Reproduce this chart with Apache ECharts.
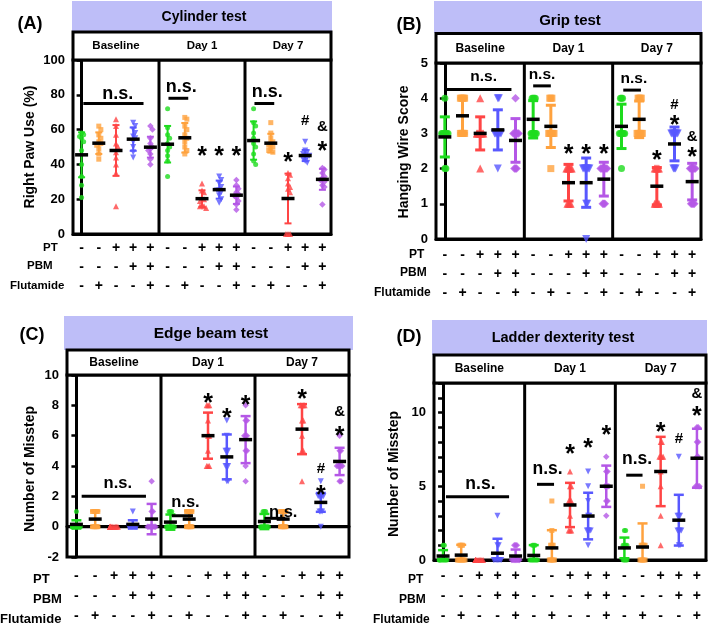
<!DOCTYPE html>
<html><head><meta charset="utf-8">
<script src="https://cdn.jsdelivr.net/npm/echarts@6/dist/echarts.min.js"></script>
<style>html,body{margin:0;padding:0;background:#fff}#c{width:709px;height:626px}</style>
</head><body><div id="c"></div>
<script>
// ---------------- data ----------------
const timepoints = ['Baseline', 'Day 1', 'Day 7'];
const rowNames = ['PT', 'PBM', 'Flutamide'];
const ptSigns = ['-', '-', '+', '+', '+'];
const pbmSigns = ['-', '-', '-', '+', '+'];
const fluSigns = ['-', '+', '-', '-', '+'];

// (A) Cylinder test
const cylPoints = [
  [58, 57, 56, 55, 53, 48, 40, 33, 28, 21],
  [62, 60, 57, 55, 53, 52, 51, 49, 46, 43],
  [66, 62, 57, 52, 50, 47, 44, 40, 35, 16],
  [64, 62, 60, 58, 56, 55, 53, 50, 47, 44],
  [62, 60, 55, 52, 50, 49, 48, 46, 43, 40],
  [72, 61, 57, 55, 52, 50, 48, 45, 42, 33],
  [67, 66, 62, 60, 57, 55, 53, 50, 48, 46],
  [29, 25, 24, 21, 20, 19, 17, 16, 16, 15],
  [33, 31, 29, 27, 25, 25, 24, 22, 20, 18],
  [31, 28, 26, 24, 23, 22, 21, 19, 17, 14],
  [72, 64, 62, 58, 55, 52, 50, 46, 42, 40],
  [64, 58, 55, 53, 52, 51, 50, 49, 48, 47],
  [35, 34, 32, 29, 27, 26, 24, 0, 0, 0],
  [53, 48, 47, 46, 45, 45, 44, 43, 42, 41],
  [38, 37, 35, 33, 32, 31, 30, 28, 27, 17]
];
const cylMean = [45.5, 52.2, 48, 54.5, 49.9, 51.6, 55.3, 20.3, 25.5, 22.3, 53.7, 52.2, 20.4, 45.1, 31.4];
const cylSD = [12.9, 6.2, 14.6, 6.7, 6, 10.5, 8.5, 4.8, 5.2, 5, 11, 5.4, 14.3, 3.2, 6];
const cylNS = [[0.1, 3.6, 75, 2.1, 80.5], [5.05, 6.2, 78, 5.8, 84.5], [10.05, 11.2, 75, 10.8, 81.5]];
const cylMarks = [[7, 47.5, '*'], [8, 47.5, '*'], [9, 47.5, '*'], [12, 44.2, '*'], [13, 65, '#'], [14, 61.3, '&'], [14, 50.3, '*']];

// (B) Grip test
const gripPoints = [
  [4, 3, 3, 3, 3, 3, 3, 3, 2, 2],
  [4, 4, 4, 4, 4, 3, 3, 3, 3, 3],
  [4, 3, 3, 3, 3, 3, 3, 3, 3, 2],
  [4, 4, 3, 3, 3, 3, 3, 3, 3, 2],
  [4, 3, 3, 3, 3, 3, 3, 2, 2, 2],
  [4, 4, 4, 4, 3, 3, 3, 3, 3, 3],
  [4, 4, 4, 3, 3, 3, 3, 3, 3, 2],
  [2, 2, 2, 2, 2, 2, 1, 1, 1, 1],
  [2, 2, 2, 2, 2, 2, 2, 1, 1, 0],
  [2, 2, 2, 2, 2, 2, 2, 1, 1, 1],
  [4, 4, 4, 3, 3, 3, 3, 3, 3, 2],
  [4, 4, 4, 4, 3, 3, 3, 3, 3, 3],
  [2, 2, 2, 2, 2, 1, 1, 1, 1, 1],
  [3, 3, 3, 3, 3, 3, 3, 2, 2, 2],
  [2, 2, 2, 2, 2, 2, 1, 1, 1, 1]
];
const gripMean = [2.9, 3.5, 3.0, 3.1, 2.8, 3.4, 3.2, 1.6, 1.6, 1.7, 3.2, 3.4, 1.5, 2.7, 1.63];
const gripSD = [0.57, 0.5, 0.47, 0.57, 0.62, 0.53, 0.6, 0.52, 0.7, 0.48, 0.63, 0.52, 0.53, 0.48, 0.52];
const gripNS = [[0.0, 3.77, 4.25, 2.2, 4.61], [5.0, 6.0, 4.35, 5.5, 4.66], [10.1, 11.1, 4.23, 10.7, 4.56]];
const gripMarks = [[7, 2.55, '*'], [8, 2.55, '*'], [9, 2.55, '*'], [12, 2.39, '*'], [13, 3.8, '#'], [13, 3.38, '*'], [14, 2.89, '&'], [14, 2.48, '*']];

// (C) Edge beam test
const edgePoints = [
  [1, 0, 0, 0, 0, 0, 0, 0, 0, 0],
  [1, 1, 1, 1, 1, 0, 0, 0, 0, 0],
  [0, 0, 0, 0, 0, 0, 0, 0, 0, 0],
  [1, 0, 0, 0, 0, 0, 0, 0, 0, 0],
  [3, 1, 1, 0, 0, 0, 0, 0, 0, 0],
  [1, 1, 1, 0, 0, 0, 0, 0, 0, 0],
  [1, 1, 1, 1, 1, 0, 0, 0, 0, 0],
  [8, 8, 8, 7, 6, 6, 5, 4, 4, 4],
  [7, 6, 5, 5, 5, 4, 4, 4, 3, 3],
  [8, 7, 7, 6, 6, 6, 5, 5, 4, 3],
  [1, 1, 1, 0, 0, 0, 0, 0, 0, 0],
  [1, 1, 1, 1, 1, 0, 0, 0, 0, 0],
  [8, 8, 8, 8, 7, 7, 6, 5, 5, 3],
  [3, 2, 2, 2, 2, 2, 1, 1, 1, 0],
  [6, 5, 5, 4, 4, 4, 4, 4, 3, 3]
];
const edgeMean = [0.15, 0.5, 0, 0.15, 0.5, 0.3, 0.5, 6.0, 4.6, 5.74, 0.34, 0.5, 6.43, 1.6, 4.3];
const edgeSD = [0.27, 0.53, 0, 0.27, 1.0, 0.5, 0.53, 1.52, 1.48, 1.55, 0.5, 0.53, 1.65, 0.62, 0.9];
const edgeNS = [[0.28, 3.7, 2.0, 2.2, 2.86], [5.07, 6.2, 0.72, 5.8, 1.57], [10.0, 11.1, 0.55, 11.0, 0.97]];
const edgeMarks = [[7, 8.5, '*'], [8, 7.47, '*'], [9, 8.33, '*'], [12, 8.77, '*'], [13, 3.8, '#'], [13, 2.43, '*'], [14, 7.55, '&'], [14, 6.28, '*']];

// (D) Ladder dexterity test
const ladderPoints = [
  [1, 1, 0, 0, 0, 0, 0, 0, 0, 0],
  [1, 1, 1, 0, 0, 0, 0, 0, 0, 0],
  [0, 0, 0, 0, 0, 0, 0, 0, 0, 0],
  [3, 1, 1, 0, 0, 0, 0, 0, 0, 0],
  [1, 1, 1, 0, 0, 0, 0, 0, 0, 0],
  [1, 1, 1, 0, 0, 0, 0, 0, 0, 0],
  [4, 2, 1, 1, 1, 0, 0, 0, 0, 0],
  [6, 5, 5, 4, 4, 4, 3, 2, 2, 2],
  [6, 5, 4, 3, 3, 2, 2, 2, 2, 1],
  [7, 6, 6, 5, 5, 5, 5, 4, 4, 3],
  [2, 2, 1, 1, 1, 1, 0, 0, 0, 0],
  [5, 1, 1, 1, 1, 0, 0, 0, 0, 0],
  [8, 8, 7, 7, 7, 7, 6, 5, 3, 1],
  [7, 3, 3, 3, 2, 2, 2, 2, 1, 1],
  [9, 9, 8, 8, 7, 7, 5, 5, 5, 5]
];
const ladderMean = [0.27, 0.33, 0, 0.46, 0.27, 0.31, 0.82, 3.73, 2.98, 5.0, 0.82, 0.88, 6.0, 2.7, 6.9];
const ladderSD = [0.4, 0.7, 0, 0.98, 0.44, 0.7, 1.2, 1.5, 1.58, 1.4, 0.7, 1.6, 2.35, 1.72, 2.0];
const ladderNS = [[0.16, 3.64, 4.29, 2.06, 5.17], [5.18, 6.12, 5.13, 5.76, 6.19], [10.1, 11.0, 5.75, 10.7, 6.83]];
const ladderMarks = [[7, 7.55, '*'], [8, 7.9, '*'], [9, 8.8, '*'], [12, 9.04, '*'], [13, 8.22, '#'], [14, 11.27, '&'], [14, 10.1, '*']];

// ---------------- styling / layout ----------------
const COLORS = ['#1EDC1E', '#FFA23E', '#FF4545', '#5858FF', '#B457E6'];
const SYMBOLS = ['circle', 'rect', 'triangle', 'triangle', 'diamond'];
const SYMROT = [0, 0, 0, 180, 0];
const FONT = '"Liberation Sans", Arial, Helvetica, sans-serif';
const TITLE_FILL = '#BEBEF8';

const panels = [
  { title: 'Cylinder test', label: '(A)', yName: 'Right Paw Use (%)',
    points: cylPoints, mean: cylMean, sd: cylSD, ns: cylNS, marks: cylMarks,
    y: { min: 0, max: 100, interval: 20, labelEvery: 1 }, zeroLine: false,
    lay: { grid: { left: 73, top: 60, width: 258, height: 174 }, titleBox: [72, 1, 260, 31], titleX: 204, titleY: 17, titleSize: 14,
      headerTop: 32, headerSize: 11.5, labelXY: [30, 24], yNameXY: [30, 147], rowX: [43, 27, 10], rowY: [248, 266, 286], rowSize: 11.5,
      signMargin: 4.5, signLH: 19, sym: 5, step: 0.12, thr: 2.5, barW: 2, cap: 3.5, nsSize: 18 } },
  { title: 'Grip test', label: '(B)', yName: 'Hanging Wire Score',
    points: gripPoints, mean: gripMean, sd: gripSD, ns: gripNS, marks: gripMarks,
    y: { min: 0, max: 5, interval: 1, labelEvery: 1 }, zeroLine: false,
    lay: { grid: { left: 436, top: 63, width: 265, height: 176 }, titleBox: [434, 1, 268, 32], titleX: 570, titleY: 21, titleSize: 15,
      headerTop: 33.5, headerSize: 12, labelXY: [409, 25], yNameXY: [404, 152], rowX: [409, 400, 374], rowY: [255, 273, 293], rowSize: 12,
      signMargin: 6.5, signLH: 19, sym: 7, step: 0.06, thr: 0.1, barW: 3, cap: 5, nsSize: 15.5 } },
  { title: 'Edge beam test', label: '(C)', yName: 'Number of Misstep',
    points: edgePoints, mean: edgeMean, sd: edgeSD, ns: edgeNS, marks: edgeMarks,
    y: { min: -2, max: 10, interval: 2, labelEvery: 1 }, zeroLine: true,
    lay: { grid: { left: 67, top: 375, width: 282, height: 185 }, titleBox: [64, 316, 289, 34], titleX: 211, titleY: 334, titleSize: 15.5,
      headerTop: 350, headerSize: 12, labelXY: [32, 335], yNameXY: [30, 469], rowX: [33, 33, 0], rowY: [579, 599, 619], rowSize: 13,
      signMargin: 9, signLH: 20, sym: 5, step: 0.07, thr: 0.2, barW: 2.5, cap: 5, nsSize: 16.5 } },
  { title: 'Ladder dexterity test', label: '(D)', yName: 'Number of Misstep',
    points: ladderPoints, mean: ladderMean, sd: ladderSD, ns: ladderNS, marks: ladderMarks,
    y: { min: 0, max: 12, interval: 1, labelEvery: 5 }, zeroLine: false,
    lay: { grid: { left: 434, top: 383, width: 272, height: 181 }, titleBox: [432, 320, 275, 35], titleX: 563, titleY: 338, titleSize: 14.5,
      headerTop: 355, headerSize: 12, labelXY: [409, 337], yNameXY: [394, 474], rowX: [408, 399, 373], rowY: [580, 600, 620], rowSize: 12,
      signMargin: 6, signLH: 20, sym: 5, step: 0.07, thr: 0.2, barW: 2.5, cap: 5, nsSize: 17.5 } }
];

// deterministic beeswarm offsets (category units)
function swarm(values, thr, step, maxK) {
  const order = values.map((v, i) => i).sort((a, b) => values[b] - values[a]);
  const placed = []; const off = new Array(values.length).fill(0);
  for (const i of order) {
    const v = values[i];
    const near = placed.filter(p => Math.abs(p.v - v) < thr);
    let chosen = 0;
    for (let k = 0; k <= maxK * 2; k++) {
      const cand = k === 0 ? 0 : (k % 2 ? Math.ceil(k / 2) : -k / 2);
      chosen = cand;
      if (!near.some(p => p.k === cand)) break;
    }
    placed.push({ v, k: chosen }); off[i] = chosen * step;
  }
  return off;
}

const grids = [], xAxes = [], yAxes = [], series = [], graphics = [];
const cats = Array.from({ length: 15 }, (_, i) => 'g' + i);

panels.forEach((p, gi) => {
  const L = p.lay, G = L.grid;
  grids.push({ left: G.left, top: G.top, width: G.width, height: G.height, show: true, borderColor: '#000', borderWidth: 3, backgroundColor: 'transparent' });
  xAxes.push({ gridIndex: gi, type: 'category', data: cats, position: 'bottom',
    axisLine: { show: true, lineStyle: { color: '#000', width: 3 } }, axisTick: { show: false },
    axisLabel: { interval: 0, margin: L.signMargin, lineHeight: L.signLH, fontSize: 14, fontWeight: 'bold', color: '#000', fontFamily: FONT,
      formatter: (v, i) => [ptSigns[i % 5], pbmSigns[i % 5], fluSigns[i % 5]].join('\n') } });
  xAxes.push({ gridIndex: gi, type: 'value', min: -0.5, max: 14.5, show: false });
  const xv = gi * 2 + 1;
  yAxes.push({ gridIndex: gi, type: 'value', min: p.y.min, max: p.y.max, interval: p.y.interval,
    splitLine: { show: false },
    axisLine: { show: true, lineStyle: { color: '#000', width: 3 } },
    axisTick: { show: true, length: 5, lineStyle: { color: '#000', width: 2.5 } },
    axisLabel: { margin: 8, fontSize: 13, fontWeight: 'bold', color: '#000', fontFamily: FONT,
      formatter: v => (Math.round(v) % (p.y.interval * p.y.labelEvery) === 0 ? String(v) : '') } });

  const yMin = p.y.min, yMax = p.y.max;

  // section separators + zero line
  const seps = [[4.5, yMin], [9.5, yMin]];
  series.push({ type: 'custom', xAxisIndex: xv, yAxisIndex: gi, silent: true, z: 1, data: seps,
    renderItem: (params, api) => {
      const a = api.coord([api.value(0), yMin]), b = api.coord([api.value(0), yMax]);
      return { type: 'line', shape: { x1: a[0], y1: a[1], x2: b[0], y2: b[1] }, style: { stroke: '#000', lineWidth: 3 } };
    } });
  if (p.zeroLine) {
    series.push({ type: 'custom', xAxisIndex: xv, yAxisIndex: gi, silent: true, z: 1, data: [[-0.5, 0]],
      renderItem: (params, api) => {
        const a = api.coord([-0.5, 0]), b = api.coord([14.5, 0]);
        return { type: 'line', shape: { x1: a[0], y1: a[1], x2: b[0], y2: b[1] }, style: { stroke: '#000', lineWidth: 3 } };
      } });
  }

  // error bars (SD)
  series.push({ type: 'custom', xAxisIndex: xv, yAxisIndex: gi, silent: true, z: 2,
    data: p.mean.map((m, i) => [i, m, p.sd[i], i % 5]),
    renderItem: (params, api) => {
      const x = api.value(0), m = api.value(1), s = api.value(2), c = COLORS[api.value(3)];
      if (!(s > 0)) return { type: 'group', children: [] };
      const lo = Math.max(m - s, yMin);
      const t = api.coord([x, m + s]), b = api.coord([x, lo]);
      const st = { stroke: c, lineWidth: L.barW };
      const ch = [
        { type: 'line', shape: { x1: t[0], y1: t[1], x2: b[0], y2: b[1] }, style: st },
        { type: 'line', shape: { x1: t[0] - L.cap, y1: t[1], x2: t[0] + L.cap, y2: t[1] }, style: st }
      ];
      if (m - s >= yMin) ch.push({ type: 'line', shape: { x1: b[0] - L.cap, y1: b[1], x2: b[0] + L.cap, y2: b[1] }, style: st });
      return { type: 'group', children: ch };
    } });

  // individual points
  for (let c = 0; c < 5; c++) {
    const data = [];
    for (let t = 0; t < 3; t++) {
      const idx = t * 5 + c;
      const vals = p.points[idx];
      const off = swarm(vals, L.thr, L.step, 3);
      vals.forEach((v, k) => data.push([idx + off[k], v]));
    }
    series.push({ type: 'scatter', xAxisIndex: xv, yAxisIndex: gi, silent: true, z: 3, clip: false,
      symbol: SYMBOLS[c], symbolRotate: SYMROT[c], symbolSize: c === 4 ? L.sym + 1.5 : (c >= 2 ? L.sym + 1 : L.sym),
      itemStyle: { color: COLORS[c] }, data });
  }

  // mean lines (omitted where the group has no spread, the points cover it)
  series.push({ type: 'custom', xAxisIndex: xv, yAxisIndex: gi, silent: true, z: 4,
    data: p.mean.map((m, i) => [i, m, p.sd[i]]),
    renderItem: (params, api) => {
      if (!(api.value(2) > 0)) return { type: 'group', children: [] };
      const q = api.coord([api.value(0), api.value(1)]);
      return { type: 'line', shape: { x1: q[0] - 6.5, y1: q[1], x2: q[0] + 6.5, y2: q[1] }, style: { stroke: '#000', lineWidth: 3.5 } };
    } });

  // n.s. annotations
  series.push({ type: 'custom', xAxisIndex: xv, yAxisIndex: gi, silent: true, z: 5,
    data: p.ns.map(r => r.slice()),
    renderItem: (params, api) => {
      const a = api.coord([api.value(0), api.value(2)]), b = api.coord([api.value(1), api.value(2)]);
      const tp = api.coord([api.value(3), api.value(4)]);
      return { type: 'group', children: [
        { type: 'line', shape: { x1: a[0], y1: a[1], x2: b[0], y2: b[1] }, style: { stroke: '#000', lineWidth: 3 } },
        { type: 'text', x: tp[0], y: tp[1], style: { text: 'n.s.', font: 'bold ' + L.nsSize + 'px ' + FONT, fill: '#000',
          align: 'center', verticalAlign: 'middle', textAlign: 'center', textVerticalAlign: 'middle' } }
      ] };
    } });

  // significance marks
  const marks = p.marks;
  series.push({ type: 'custom', xAxisIndex: xv, yAxisIndex: gi, silent: true, z: 5,
    data: marks.map(r => [r[0], r[1]]),
    renderItem: (params, api) => {
      const q = api.coord([api.value(0), api.value(1)]);
      const txt = marks[params.dataIndex][2];
      const star = txt === '*';
      return { type: 'text', x: q[0], y: q[1] + (star ? 6 : 0),
        style: { text: txt, font: 'bold ' + (star ? 25 : 15) + 'px ' + FONT, fill: '#000',
          align: 'center', verticalAlign: 'middle', textAlign: 'center', textVerticalAlign: 'middle' } };
    } });

  // graphics: title box, header box, labels
  const tb = L.titleBox;
  graphics.push({ type: 'rect', shape: { x: tb[0], y: tb[1], width: tb[2], height: tb[3] }, style: { fill: TITLE_FILL }, z: 0 });
  graphics.push({ type: 'text', x: L.titleX, y: L.titleY, style: { text: p.title, font: 'bold ' + L.titleSize + 'px ' + FONT, fill: '#000',
    textAlign: 'center', textVerticalAlign: 'middle', align: 'center', verticalAlign: 'middle' }, z: 1 });
  graphics.push({ type: 'rect', shape: { x: G.left, y: L.headerTop, width: G.width, height: G.top - L.headerTop },
    style: { fill: '#fff', stroke: '#000', lineWidth: 3 }, z: 1 });
  timepoints.forEach((tp, k) => {
    graphics.push({ type: 'text', x: G.left + G.width * (2.5 + 5 * k) / 15, y: (L.headerTop + G.top) / 2,
      style: { text: tp, font: 'bold ' + L.headerSize + 'px ' + FONT, fill: '#000', textAlign: 'center', textVerticalAlign: 'middle', align: 'center', verticalAlign: 'middle' }, z: 2 });
  });
  graphics.push({ type: 'text', x: L.labelXY[0], y: L.labelXY[1],
    style: { text: p.label, font: 'bold 18px ' + FONT, fill: '#000', textAlign: 'center', textVerticalAlign: 'middle', align: 'center', verticalAlign: 'middle' } });
  graphics.push({ type: 'text', x: L.yNameXY[0], y: L.yNameXY[1], rotation: Math.PI / 2,
    style: { text: p.yName, font: 'bold 14px ' + FONT, fill: '#000', textAlign: 'center', textVerticalAlign: 'middle', align: 'center', verticalAlign: 'middle' } });
  rowNames.forEach((rn, k) => {
    graphics.push({ type: 'text', x: L.rowX[k], y: L.rowY[k],
      style: { text: rn, font: 'bold ' + L.rowSize + 'px ' + FONT, fill: '#000', textAlign: 'left', textVerticalAlign: 'middle', align: 'left', verticalAlign: 'middle' } });
  });
});

const chart = echarts.init(document.getElementById('c'), null, { renderer: 'canvas', width: 709, height: 626 });
chart.setOption({
  backgroundColor: '#fff',
  animation: false,
  textStyle: { fontFamily: FONT },
  grid: grids, xAxis: xAxes, yAxis: yAxes, series,
  graphic: { elements: graphics }
});
</script></body></html>
